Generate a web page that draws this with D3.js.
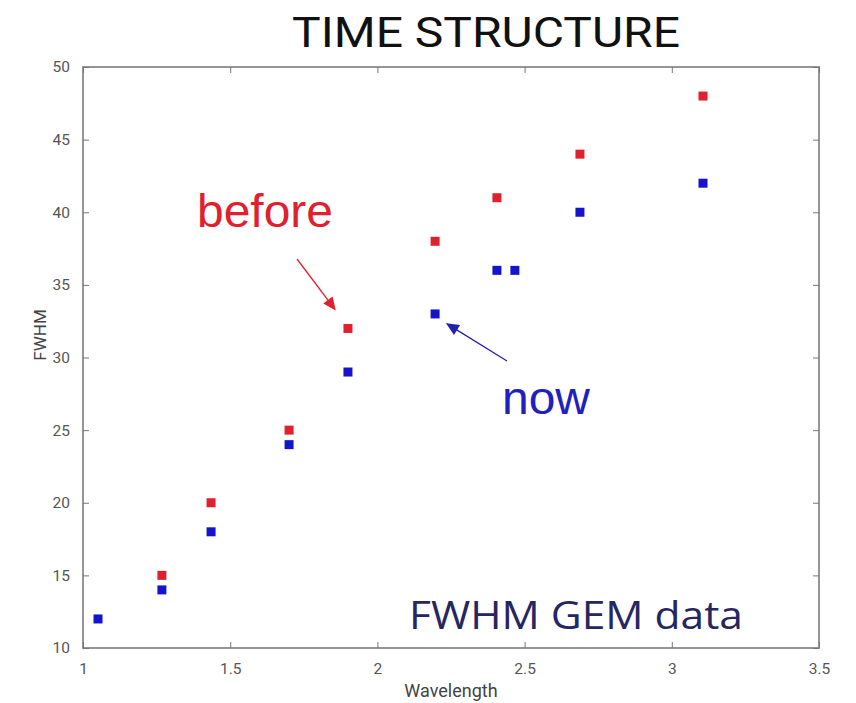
<!DOCTYPE html>
<html>
<head>
  <style>
    body { margin: 0; background: #fff; }
    svg { display: block; }
  </style>
</head>
<body>
  <svg width="856" height="703"></svg>
  <script src="https://d3js.org/d3.v7.min.js"></script>
  <script>
    // values
    const beforeX = [1.268, 1.435, 1.70, 1.90, 2.196, 2.406, 2.688, 3.106];
    const beforeY = [15, 20, 25, 32, 38, 41, 44, 48];
    const nowX = [1.051, 1.268, 1.435, 1.70, 1.90, 2.196, 2.406, 2.467, 2.688, 3.106];
    const nowY = [12, 14, 18, 24, 29, 33, 36, 36, 40, 42];
    const xTicks = [1, 1.5, 2, 2.5, 3, 3.5];
    const yTicks = [10, 15, 20, 25, 30, 35, 40, 45, 50];

    const width = 856, height = 703;
    const svg = d3.select("svg").attr("viewBox", [0, 0, width, height]);

    const x = d3.scaleLinear().domain([1, 3.5]).range([83, 819]);
    const y = d3.scaleLinear().domain([10, 50]).range([648, 67]);

    const red = "#e0202e";
    const blue = "#1414cc";

    // frame
    svg.append("rect")
      .attr("x", x(1)).attr("y", y(50))
      .attr("width", x(3.5) - x(1)).attr("height", y(10) - y(50))
      .attr("fill", "none").attr("stroke", "#8a8a8a").attr("stroke-width", 1.8);

    // ticks pointing inward
    const axisStyle = g => {
      g.select(".domain").remove();
      g.selectAll(".tick line").attr("stroke", "#777");
      g.selectAll(".tick text").attr("fill", "#555")
        .attr("font-family", "Roboto, sans-serif").attr("font-size", 15.5);
    };
    svg.append("g").attr("transform", `translate(0,${y(10)})`)
      .call(d3.axisBottom(x).tickValues(xTicks).tickSize(-6).tickPadding(15).tickFormat(d3.format("")))
      .call(axisStyle);
    svg.append("g").attr("transform", `translate(0,${y(50)})`)
      .call(d3.axisTop(x).tickValues(xTicks).tickSize(-6).tickFormat(""))
      .call(axisStyle);
    svg.append("g").attr("transform", `translate(${x(1)},0)`)
      .call(d3.axisLeft(y).tickValues(yTicks).tickSize(-6).tickPadding(13))
      .call(axisStyle);
    svg.append("g").attr("transform", `translate(${x(3.5)},0)`)
      .call(d3.axisRight(y).tickValues(yTicks).tickSize(-6).tickFormat(""))
      .call(axisStyle);

    // markers
    const sz = 9;
    svg.append("g").selectAll("rect")
      .data(d3.zip(beforeX, beforeY))
      .join("rect")
      .attr("x", d => x(d[0]) - sz / 2).attr("y", d => y(d[1]) - sz / 2)
      .attr("width", sz).attr("height", sz).attr("fill", red);
    svg.append("g").selectAll("rect")
      .data(d3.zip(nowX, nowY))
      .join("rect")
      .attr("x", d => x(d[0]) - sz / 2).attr("y", d => y(d[1]) - sz / 2)
      .attr("width", sz).attr("height", sz).attr("fill", blue);

    // titles
    svg.append("text")
      .attr("x", 486).attr("y", 47).attr("text-anchor", "middle")
      .attr("font-family", "Roboto, sans-serif").attr("font-size", 42)
      .attr("textLength", 388).attr("lengthAdjust", "spacingAndGlyphs")
      .attr("fill", "#111").text("TIME STRUCTURE");
    svg.append("text")
      .attr("x", 451).attr("y", 697).attr("text-anchor", "middle")
      .attr("font-family", "Roboto, sans-serif").attr("font-size", 18)
      .attr("fill", "#444").text("Wavelength");
    svg.append("text")
      .attr("transform", "translate(46,335) rotate(-90)").attr("text-anchor", "middle")
      .attr("font-family", "Roboto, sans-serif").attr("font-size", 17)
      .attr("fill", "#444").text("FWHM");

    // annotations
    const defs = svg.append("defs");
    [["ahRed", red], ["ahBlue", "#2222aa"]].forEach(([id, c]) => {
      defs.append("marker").attr("id", id)
        .attr("viewBox", "0 0 10 10").attr("refX", 9).attr("refY", 5)
        .attr("markerWidth", 15).attr("markerHeight", 13).attr("orient", "auto")
        .attr("markerUnits", "userSpaceOnUse")
        .append("path").attr("d", "M0,0.5 L10,5 L0,9.5 Z").attr("fill", c);
    });
    // arrows point at the markers they annotate
    svg.append("line")
      .attr("x1", 297).attr("y1", 259)
      .attr("x2", x(beforeX[3]) - 13).attr("y2", y(beforeY[3]) - 19)
      .attr("stroke", red).attr("stroke-width", 1.3).attr("marker-end", "url(#ahRed)");
    svg.append("line")
      .attr("x1", 507).attr("y1", 361)
      .attr("x2", x(nowX[5]) + 12).attr("y2", y(nowY[5]) + 10)
      .attr("stroke", "#2222aa").attr("stroke-width", 1.3).attr("marker-end", "url(#ahBlue)");

    svg.append("text")
      .attr("x", 197).attr("y", 227)
      .attr("font-family", "Liberation Sans, Arial, sans-serif").attr("font-size", 46)
      .attr("textLength", 136).attr("lengthAdjust", "spacingAndGlyphs")
      .attr("fill", red).text("before");
    svg.append("text")
      .attr("x", 502).attr("y", 414)
      .attr("font-family", "Liberation Sans, Arial, sans-serif").attr("font-size", 46)
      .attr("textLength", 88).attr("lengthAdjust", "spacingAndGlyphs")
      .attr("fill", "#2020c0").text("now");
    svg.append("text")
      .attr("x", 409).attr("y", 629)
      .attr("font-family", "Open Sans, sans-serif").attr("font-size", 38)
      .attr("textLength", 334).attr("lengthAdjust", "spacingAndGlyphs")
      .attr("fill", "#262660").text("FWHM GEM data");
  </script>
</body>
</html>
